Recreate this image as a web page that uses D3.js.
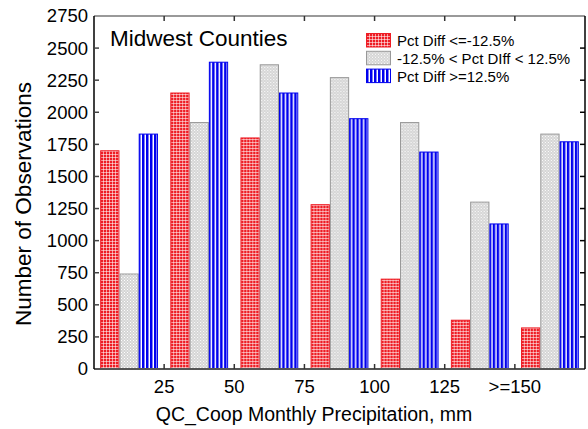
<!DOCTYPE html>
<html>
<head>
<meta charset="utf-8">
<script src="https://cdn.jsdelivr.net/npm/d3@7/dist/d3.min.js"></script>
<style>
  body { margin: 0; background: #fff; }
  text { font-family: "Liberation Sans", Arial, sans-serif; }
</style>
</head>
<body>
<div id="chart"></div>
<script>
const categories = ["<25", "25-50", "50-75", "75-100", "100-125", "125-150", ">=150"];
const tickLabels = ["25", "50", "75", "100", "125", ">=150"];
const seriesNames = ["Pct Diff <=-12.5%", "-12.5% < Pct DIff < 12.5%", "Pct Diff >=12.5%"];
const lowValues = [1700, 2150, 1800, 1280, 700, 380, 320];
const midValues = [740, 1920, 2370, 2270, 1920, 1300, 1830];
const highValues = [1830, 2390, 2150, 1950, 1690, 1130, 1770];
const yTicks = d3.range(0, 2751, 250);

const width = 588, height = 429;
const margin = { top: 16, right: 3, bottom: 60, left: 94 };
const innerW = width - margin.left - margin.right;
const innerH = height - margin.top - margin.bottom;

const svg = d3.select("#chart").append("svg")
  .attr("width", width)
  .attr("height", height);

// fill patterns
const defs = svg.append("defs");
const pRed = defs.append("pattern").attr("id", "pRed")
  .attr("patternUnits", "userSpaceOnUse").attr("width", 3).attr("height", 3);
pRed.append("rect").attr("width", 3).attr("height", 3).attr("fill", "#ee1c24");
pRed.append("path").attr("d", "M0,0.5H3M0.5,0V3")
  .attr("stroke", "#fff").attr("stroke-opacity", 0.55).attr("stroke-width", 1);

const pGray = defs.append("pattern").attr("id", "pGray")
  .attr("patternUnits", "userSpaceOnUse").attr("width", 3).attr("height", 3);
pGray.append("rect").attr("width", 3).attr("height", 3).attr("fill", "#d4d4d4");
pGray.append("rect").attr("x", 0).attr("y", 0).attr("width", 1).attr("height", 1).attr("fill", "#fff");
pGray.append("rect").attr("x", 1.5).attr("y", 1.5).attr("width", 1).attr("height", 1).attr("fill", "#fff");

const pBlue = defs.append("pattern").attr("id", "pBlue")
  .attr("patternUnits", "userSpaceOnUse").attr("width", 4).attr("height", 4);
pBlue.append("rect").attr("width", 4).attr("height", 4).attr("fill", "#fff");
pBlue.append("rect").attr("width", 2.5).attr("height", 4).attr("fill", "#0000ee");

const fills = ["url(#pRed)", "url(#pGray)", "url(#pBlue)"];
const strokes = ["#ee1c24", "#999", "#0000ee"];
const series = [lowValues, midValues, highValues];

const g = svg.append("g").attr("transform", `translate(${margin.left},${margin.top})`);

const x0 = d3.scaleBand().domain(categories).range([0, innerW]).padding(0);
const x1 = d3.scaleBand().domain([0, 1, 2]).range([0, x0.bandwidth()]).paddingOuter(0.32).paddingInner(0);
const y = d3.scaleLinear().domain([0, 2750]).range([innerH, 0]);

// bars
const groups = g.selectAll(".grp").data(categories).join("g")
  .attr("transform", d => `translate(${x0(d)},0)`);
groups.selectAll("rect")
  .data((d, i) => series.map((s, k) => ({ k, v: s[i] })))
  .join("rect")
  .attr("x", d => x1(d.k) + 0.5)
  .attr("width", x1.bandwidth() - 1)
  .attr("y", d => y(d.v))
  .attr("height", d => innerH - y(d.v))
  .attr("fill", d => fills[d.k])
  .attr("stroke", d => strokes[d.k])
  .attr("stroke-width", 1);

// frame
g.append("line").attr("x1", 0).attr("x2", innerW).attr("y1", 0).attr("y2", 0)
  .attr("stroke", "#777").attr("stroke-width", 1.5);
g.append("line").attr("x1", 0).attr("x2", innerW).attr("y1", innerH).attr("y2", innerH)
  .attr("stroke", "#555").attr("stroke-width", 2);
g.append("line").attr("x1", 0).attr("x2", 0).attr("y1", 0).attr("y2", innerH)
  .attr("stroke", "#000").attr("stroke-width", 1.5);
g.append("line").attr("x1", innerW).attr("x2", innerW).attr("y1", 0).attr("y2", innerH)
  .attr("stroke", "#000").attr("stroke-width", 1.5);

// y axis (left, labels + inward ticks)
const yAxis = g.append("g").call(d3.axisLeft(y).tickValues(yTicks).tickFormat(d3.format("d")).tickSize(0).tickPadding(6));
yAxis.select(".domain").remove();
yAxis.selectAll("text").attr("font-size", 18.5).attr("fill", "#000")
  .attr("font-family", "Liberation Sans, Arial, sans-serif");
g.append("g").selectAll("line").data(yTicks.slice(1, -1)).join("line")
  .attr("x1", 0).attr("x2", 5).attr("y1", d => y(d)).attr("y2", d => y(d))
  .attr("stroke", "#444").attr("stroke-width", 1.5);
g.append("g").selectAll("line").data(yTicks.slice(1, -1)).join("line")
  .attr("x1", innerW - 5).attr("x2", innerW).attr("y1", d => y(d)).attr("y2", d => y(d))
  .attr("stroke", "#000").attr("stroke-width", 1.5);

// x ticks at group boundaries
const bounds = categories.slice(1).map(c => x0(c));
g.append("g").selectAll("line").data(bounds).join("line")
  .attr("x1", d => d).attr("x2", d => d).attr("y1", innerH).attr("y2", innerH - 5)
  .attr("stroke", "#333").attr("stroke-width", 1.5);
g.append("g").selectAll("line").data(bounds).join("line")
  .attr("x1", d => d).attr("x2", d => d).attr("y1", 0).attr("y2", 5)
  .attr("stroke", "#333").attr("stroke-width", 1.5);
g.append("g").selectAll("text").data(tickLabels).join("text")
  .attr("x", (d, i) => bounds[i])
  .attr("y", innerH + 24)
  .attr("text-anchor", "middle")
  .attr("font-size", 18.5)
  .text(d => d);

// titles
svg.append("text")
  .attr("x", 314)
  .attr("y", 421)
  .attr("text-anchor", "middle")
  .attr("font-size", 19.5)
  .text("QC_Coop Monthly Precipitation, mm");
svg.append("text")
  .attr("transform", "translate(31,204) rotate(-90)")
  .attr("text-anchor", "middle")
  .attr("font-size", 22.5)
  .text("Number of Observations");
svg.append("text")
  .attr("x", 110).attr("y", 46)
  .attr("font-size", 22.5)
  .text("Midwest Counties");

// legend
const legend = svg.append("g").attr("transform", "translate(366,33)");
const items = legend.selectAll("g").data(seriesNames).join("g")
  .attr("transform", (d, i) => `translate(0,${i * 17.8})`);
items.append("rect").attr("x", 0.5).attr("y", 0.5).attr("width", 24).attr("height", 13.5)
  .attr("fill", (d, i) => fills[i]).attr("stroke", (d, i) => strokes[i]);
items.append("text").attr("x", 31).attr("y", 13).attr("font-size", 15).text(d => d);
</script>
</body>
</html>
